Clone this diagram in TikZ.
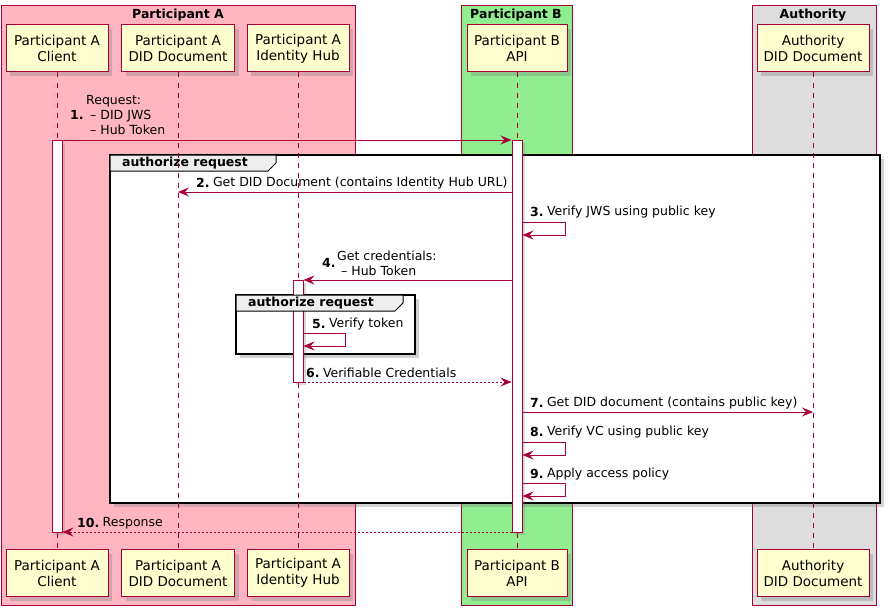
\documentclass[tikz,border=0pt]{standalone}
\usepackage{fontspec}
\setmainfont{DejaVu Sans}
\usetikzlibrary{arrows.meta,shadows,positioning}
\definecolor{umlred}{HTML}{A80036}
\definecolor{umlfill}{HTML}{FEFECE}
\definecolor{boxpink}{HTML}{FFB6C1}
\definecolor{boxgreen}{HTML}{90EE90}
\definecolor{boxgray}{HTML}{DDDDDD}
\definecolor{grouphead}{HTML}{EEEEEE}
\newcommand\umlpart{\fontsize{13.5}{16}\selectfont}
\newcommand\umlmsg{\fontsize{12.5}{15}\selectfont}
\newcommand\umltitle{\fontsize{12.5}{15}\selectfont\bfseries}

\begin{document}
\begin{tikzpicture}[x=1pt,y=-1pt,
    part/.style={draw=umlred,fill=umlfill,line width=1pt,align=center,
      minimum height=47pt,inner sep=0pt,font=\umlpart,
      drop shadow={shadow xshift=4pt,shadow yshift=-4pt,opacity=0.35}},
    lifeline/.style={umlred,line width=0.8pt,dash pattern=on 5pt off 5pt},
    act/.style={draw=umlred,fill=white,line width=1pt,minimum width=10pt,inner sep=0pt,
      drop shadow={shadow xshift=3pt,shadow yshift=-3pt,opacity=0.3}},
    msg/.style={umlred,line width=0.8pt,-{Stealth[length=11pt,width=9pt,inset=4pt]}},
    reply/.style={msg,dash pattern=on 2pt off 2pt},
    num/.style={font=\umlmsg\bfseries,inner sep=0pt,anchor=west},
    lbl/.style={font=\umlmsg,inner sep=0pt,align=left},
    grpframe/.style={draw=black,line width=1.5pt,fill=white,
      drop shadow={shadow xshift=4pt,shadow yshift=-4pt,opacity=0.35}},
    grptab/.style={draw=black,line width=1pt,fill=grouphead},
    grplabel/.style={font=\umltitle,inner sep=0pt}]

      \useasboundingbox (0,0) rectangle (894,610);

      % Boxes round the participants
      \draw[umlred,fill=boxpink] (1,5) rectangle (355,605);
      \draw[umlred,fill=boxgreen] (461,5) rectangle (572,605);
      \draw[umlred,fill=boxgray] (752,5) rectangle (876,605);
      \node[font=\umltitle] (boxA) at (178,15) {Participant A};
      \node[font=\umltitle] (boxB) at (516,15) {Participant B};
      \node[font=\umltitle] (boxC) at (813,15) {Authority};

      % Outer group
      \draw[grpframe] (110,155) rectangle (880,503);
      \draw[grptab] (110,155) -- (276,155) -- (276,163) -- (268,171) -- (110,171) -- cycle;
      \node[grplabel] (grpOuter) at (185,163) {authorize request};

      % Participants, top and bottom
      \node[part,minimum width=102pt] (clientTop) at (57,48.5) {Participant A\\Client};
      \node[part,minimum width=113pt] (didTop) at (178,48.5) {Participant A\\DID Document};
      \node[part,minimum width=102pt] (hubTop) at (298,48.5) {Participant A\\Identity Hub};
      \node[part,minimum width=100pt] (apiTop) at (517,48.5) {Participant B\\API};
      \node[part,minimum width=112pt] (authTop) at (813,48.5) {Authority\\DID Document};
      \node[part,minimum width=102pt] (clientBot) at (57,573) {Participant A\\Client};
      \node[part,minimum width=113pt] (didBot) at (178,573) {Participant A\\DID Document};
      \node[part,minimum width=102pt] (hubBot) at (298,573) {Participant A\\Identity Hub};
      \node[part,minimum width=100pt] (apiBot) at (517,573) {Participant B\\API};
      \node[part,minimum width=112pt] (authBot) at (813,573) {Authority\\DID Document};

      % Lifelines
      \draw[lifeline] (clientTop) -- (clientBot);
      \draw[lifeline] (didTop) -- (didBot);
      \draw[lifeline] (hubTop) -- (hubBot);
      \draw[lifeline] (apiTop) -- (apiBot);
      \draw[lifeline] (authTop) -- (authBot);

      % Inner group
      \draw[grpframe] (236,295) rectangle (415,354);

      % Activations
      \node[act,minimum height=392pt] (actClient) at (57,336) {};
      \node[act,minimum height=392pt] (actApi) at (517,336) {};
      \node[act,minimum height=102pt] (actHub) at (298,331) {};

      % tab of the inner group lies over the activation
      \draw[grptab] (236,295) -- (403,295) -- (403,303) -- (395,311) -- (236,311) -- cycle;
      \node[grplabel] (grpInner) at (311,303) {authorize request};

      % Message rows
      \coordinate (r1) at (0,140);
      \coordinate (r2) at (0,192);
      \coordinate (r3) at (0,222);
      \coordinate (r4) at (0,280);
      \coordinate (r5) at (0,333);
      \coordinate (r6) at (0,382);
      \coordinate (r7) at (0,412);
      \coordinate (r8) at (0,442);
      \coordinate (r9) at (0,483);
      \coordinate (r10) at (0,532);

      % 1. request
      \draw[msg] (clientTop |- r1) -- (actApi.west |- r1);
      \node[num] (n1) at (70,115) {1.};
      \node[lbl,anchor=west] (t1) at (86,115) {Request:\\\hspace{4pt}-- DID JWS\\\hspace{4pt}-- Hub Token};

      % 2. DID document of A
      \draw[msg] (actApi.west |- r2) -- (didTop |- r2);
      \node[num] (n2) at (196,183) {2.};
      \node[lbl,anchor=west,right=3pt of n2] (t2) {Get DID Document (contains Identity Hub URL)};

      % 3. verify JWS
      \draw[msg] (actApi.east |- r3) -- ++(43,0) -- ++(0,13) -- ++(-43,0);
      \node[num] (n3) at (530,212) {3.};
      \node[lbl,anchor=west,right=3pt of n3] (t3) {Verify JWS using public key};

      % 4. get credentials
      \draw[msg] (actApi.west |- r4) -- (actHub.east |- r4);
      \node[num] (n4) at (322,263) {4.};
      \node[lbl,anchor=west] (t4) at (337,263) {Get credentials:\\\hspace{4pt}-- Hub Token};

      % 5. verify token
      \draw[msg] (actHub.east |- r5) -- ++(42,0) -- ++(0,13) -- ++(-42,0);
      \node[num] (n5) at (312,324) {5.};
      \node[lbl,anchor=west,right=3pt of n5] (t5) {Verify token};

      % 6. credentials back
      \draw[reply] (actHub.east |- r6) -- (actApi.west |- r6);
      \node[num] (n6) at (306,373) {6.};
      \node[lbl,anchor=west,right=3pt of n6] (t6) {Verifiable Credentials};

      % 7. DID document of authority
      \draw[msg] (actApi.east |- r7) -- (authTop |- r7);
      \node[num] (n7) at (530,403) {7.};
      \node[lbl,anchor=west,right=3pt of n7] (t7) {Get DID document (contains public key)};

      % 8. verify VC
      \draw[msg] (actApi.east |- r8) -- ++(43,0) -- ++(0,13) -- ++(-43,0);
      \node[num] (n8) at (530,432) {8.};
      \node[lbl,anchor=west,right=3pt of n8] (t8) {Verify VC using public key};

      % 9. access policy
      \draw[msg] (actApi.east |- r9) -- ++(43,0) -- ++(0,13) -- ++(-43,0);
      \node[num] (n9) at (530,474) {9.};
      \node[lbl,anchor=west,right=3pt of n9] (t9) {Apply access policy};

      % 10. response
      \draw[reply] (actApi.west |- r10) -- (actClient.east |- r10);
      \node[num] (n10) at (77,523) {10.};
      \node[lbl,anchor=west,right=3pt of n10] (t10) {Response};
    \end{tikzpicture}
\end{document}
